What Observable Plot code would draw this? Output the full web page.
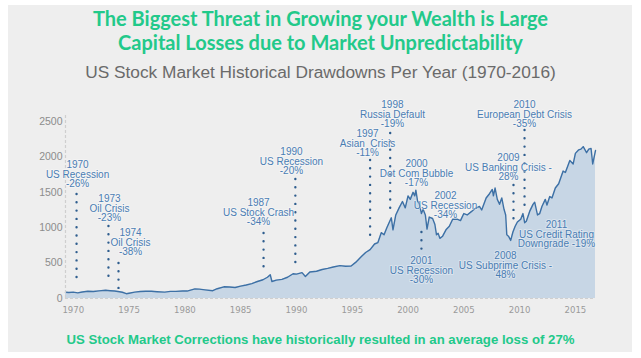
<!DOCTYPE html>
<html>
<head>
<meta charset="utf-8">
<script src="https://cdn.jsdelivr.net/npm/d3@7"></script>
<script src="https://cdn.jsdelivr.net/npm/@observablehq/plot@0.6"></script>
<style>
  html, body { margin: 0; padding: 0; background: #ffffff; width: 641px; height: 358px; overflow: hidden; }
  #panel { position: absolute; left: 8px; top: 5px; width: 624px; height: 347px; background: #eeeeee; }
  .title { position: absolute; left: 0; width: 641px; text-align: center; font-family: Lato, "Open Sans", sans-serif; font-weight: 700; font-size: 20px; color: #22c98a; line-height: 25px; }
  #subtitle { position: absolute; left: 0; width: 641px; top: 62px; text-align: center; font-family: "Liberation Sans", Arial, sans-serif; font-size: 17.3px; color: #6a6a6a; }
  #caption { position: absolute; left: 0; width: 641px; top: 332px; text-align: center; font-family: "Liberation Sans", Arial, sans-serif; font-weight: 700; font-size: 13.2px; color: #22c98a; }
  #chart { position: absolute; left: 0; top: 95px; }
</style>
</head>
<body>
<div id="panel"></div>
<div class="title" style="top:6px">The Biggest Threat in Growing your Wealth is Large</div>
<div class="title" style="top:30px">Capital Losses due to Market Unpredictability</div>
<div id="subtitle">US Stock Market Historical Drawdowns Per Year (1970-2016)</div>
<div id="chart"></div>
<div id="caption">US Stock Market Corrections have historically resulted in an average loss of 27%</div>
<script>
// S&P 500 index level
const years = [1969.3,1969.6,1970.0,1970.4,1970.8,1971.3,1971.8,1972.3,1972.9,1973.3,1973.7,1974.0,1974.4,1974.75,1975.0,1975.5,1976.0,1976.5,1977.0,1977.5,1978.2,1978.7,1979.2,1979.8,1980.2,1980.9,1981.3,1981.8,1982.5,1982.9,1983.5,1984.0,1984.5,1985.0,1985.5,1986.0,1986.5,1987.0,1987.4,1987.65,1987.8,1988.2,1988.7,1989.2,1989.7,1990.0,1990.5,1990.8,1991.2,1991.8,1992.3,1992.8,1993.3,1993.9,1994.4,1994.9,1995.3,1995.8,1996.2,1996.6,1997.0,1997.3,1997.6,1997.85,1998.1,1998.5,1998.65,1998.9,1999.2,1999.5,1999.75,2000.0,2000.2,2000.45,2000.6,2000.7,2000.85,2001.0,2001.2,2001.35,2001.55,2001.7,2001.9,2002.2,2002.4,2002.55,2002.7,2002.85,2003.1,2003.4,2003.7,2004.0,2004.4,2004.7,2005.0,2005.3,2005.7,2006.0,2006.4,2006.6,2007.0,2007.3,2007.55,2007.65,2007.8,2008.0,2008.2,2008.4,2008.6,2008.75,2008.85,2009.0,2009.2,2009.4,2009.6,2009.8,2010.1,2010.3,2010.45,2010.6,2010.9,2011.2,2011.35,2011.6,2011.8,2012.0,2012.3,2012.45,2012.7,2012.9,2013.2,2013.5,2013.9,2014.1,2014.5,2014.8,2015.0,2015.3,2015.5,2015.7,2016.0,2016.2,2016.4,2016.55,2016.8];
const values = [88,85,90,80,92,102,98,108,116,110,105,98,88,68,75,90,98,103,102,96,90,100,100,105,105,135,132,122,110,138,165,162,155,175,190,210,240,265,300,335,240,260,270,300,350,345,365,310,375,385,410,425,445,465,455,460,510,590,650,690,770,790,930,900,1000,1140,970,1180,1280,1370,1280,1450,1400,1500,1450,1530,1380,1340,1200,1260,1180,980,1150,1130,1050,900,920,850,880,970,1020,1120,1120,1100,1200,1180,1230,1270,1300,1250,1420,1480,1540,1450,1560,1400,1330,1420,1260,1180,900,880,820,940,1020,1080,1120,1200,1070,1090,1230,1330,1360,1180,1200,1300,1400,1320,1440,1420,1560,1620,1800,1780,1950,1900,2050,2100,2110,2145,2060,2110,2120,1900,2090];

// axes
const xDomain = [1969.3, 2016.8];
const yDomain = [0, 2500];
const xTicks = [1970,1975,1980,1985,1990,1995,2000,2005,2010,2015];
const yTicks = [0,500,1000,1500,2000,2500];

// annotation labels (position in year / index level)
const labelX = [1970.38,1973.24,1975.13,1986.6,1989.55,1996.37,1998.6,2000.76,2001.2,2003.36,2008.73,2009.0,2010.44,2013.3];
const labelY = [1751,1271,791,1215,1935,2189,2599,1766,395,1314,466,1850,2599,904];
const labelText = [
  "1970\nUS Recession\n-26%",
  "1973\nOil Crisis\n-23%",
  "1974\nOil Crisis\n-38%",
  "1987\nUS Stock Crash\n-34%",
  "1990\nUS Recession\n-20%",
  "1997\nAsian  Crisis\n-11%",
  "1998\nRussia Default\n-19%",
  "2000\nDot Com Bubble\n-17%",
  "2001\nUS Recession\n-30%",
  "2002\nUS Recession\n-34%",
  "2008\nUS Subprime Crisis -\n48%",
  "2009\nUS Banking Crisis -\n28%",
  "2010\nEuropean Debt Crisis\n-35%",
  "2011\nUS Credit Rating\nDowngrade -19%"
];

// dotted leader lines
const leaderX = [1970.29,1973.15,1974.05,1987.05,1989.9,1996.6,1998.4,2001.2,2009.45,2010.44];
const leaderTop = [1469,1017,494,918,1681,1949,2330,932,1596,2373];
const leaderBottom = [184,212,141,424,395,862,1271,650,1073,1314];

const series = years.map((x, i) => ({x, y: values[i]}));
const labels = labelX.map((x, i) => ({x, y: labelY[i], text: labelText[i]}));
const leaders = leaderX.map((x, i) => ({x, y1: leaderTop[i], y2: leaderBottom[i]}));

const chart = Plot.plot({
  width: 641,
  height: 230,
  marginLeft: 65,
  marginRight: 46,
  marginTop: 26,
  marginBottom: 27,
  x: {domain: xDomain},
  y: {domain: yDomain},
  style: {background: "transparent", fontFamily: "'Liberation Sans', Arial, sans-serif"},
  marks: [
    Plot.areaY(series, {x: "x", y: "y", fill: "#c7d6e5"}),
    Plot.lineY(series, {x: "x", y: "y", stroke: "#3d70a5", strokeWidth: 1.4}),
    Plot.ruleY([0], {stroke: "#cfcfcf", strokeDasharray: "3,2", strokeWidth: 1.2}),
    Plot.ruleX([xDomain[0]], {y1: 0, y2: yDomain[1] + 100, stroke: "#cfcfcf", strokeDasharray: "3,2", strokeWidth: 1.2}),
    Plot.axisX(xTicks, {tickSize: 0, tickPadding: 8, tickFormat: d => String(d), label: null, fontSize: 9.5, fill: "#9a9a9a", fontFamily: "'DejaVu Sans Condensed', 'Liberation Sans', sans-serif"}),
    Plot.axisY(yTicks, {tickSize: 0, tickPadding: 3, tickFormat: d => String(d), label: null, fontSize: 10.5, fill: "#8c8c8c"}),
    Plot.ruleX(leaders, {x: "x", y1: "y1", y2: "y2", stroke: "#2e5d8e", strokeWidth: 2.4, strokeDasharray: "0,8.3", strokeLinecap: "round"}),
    Plot.text(labels, {x: "x", y: "y", text: "text", fontSize: 10, lineHeight: 0.98, fill: "#4a7db3", stroke: "#ffffff", strokeOpacity: 0.35, strokeWidth: 2})
  ]
});
document.getElementById("chart").appendChild(chart);
</script>
</body>
</html>
